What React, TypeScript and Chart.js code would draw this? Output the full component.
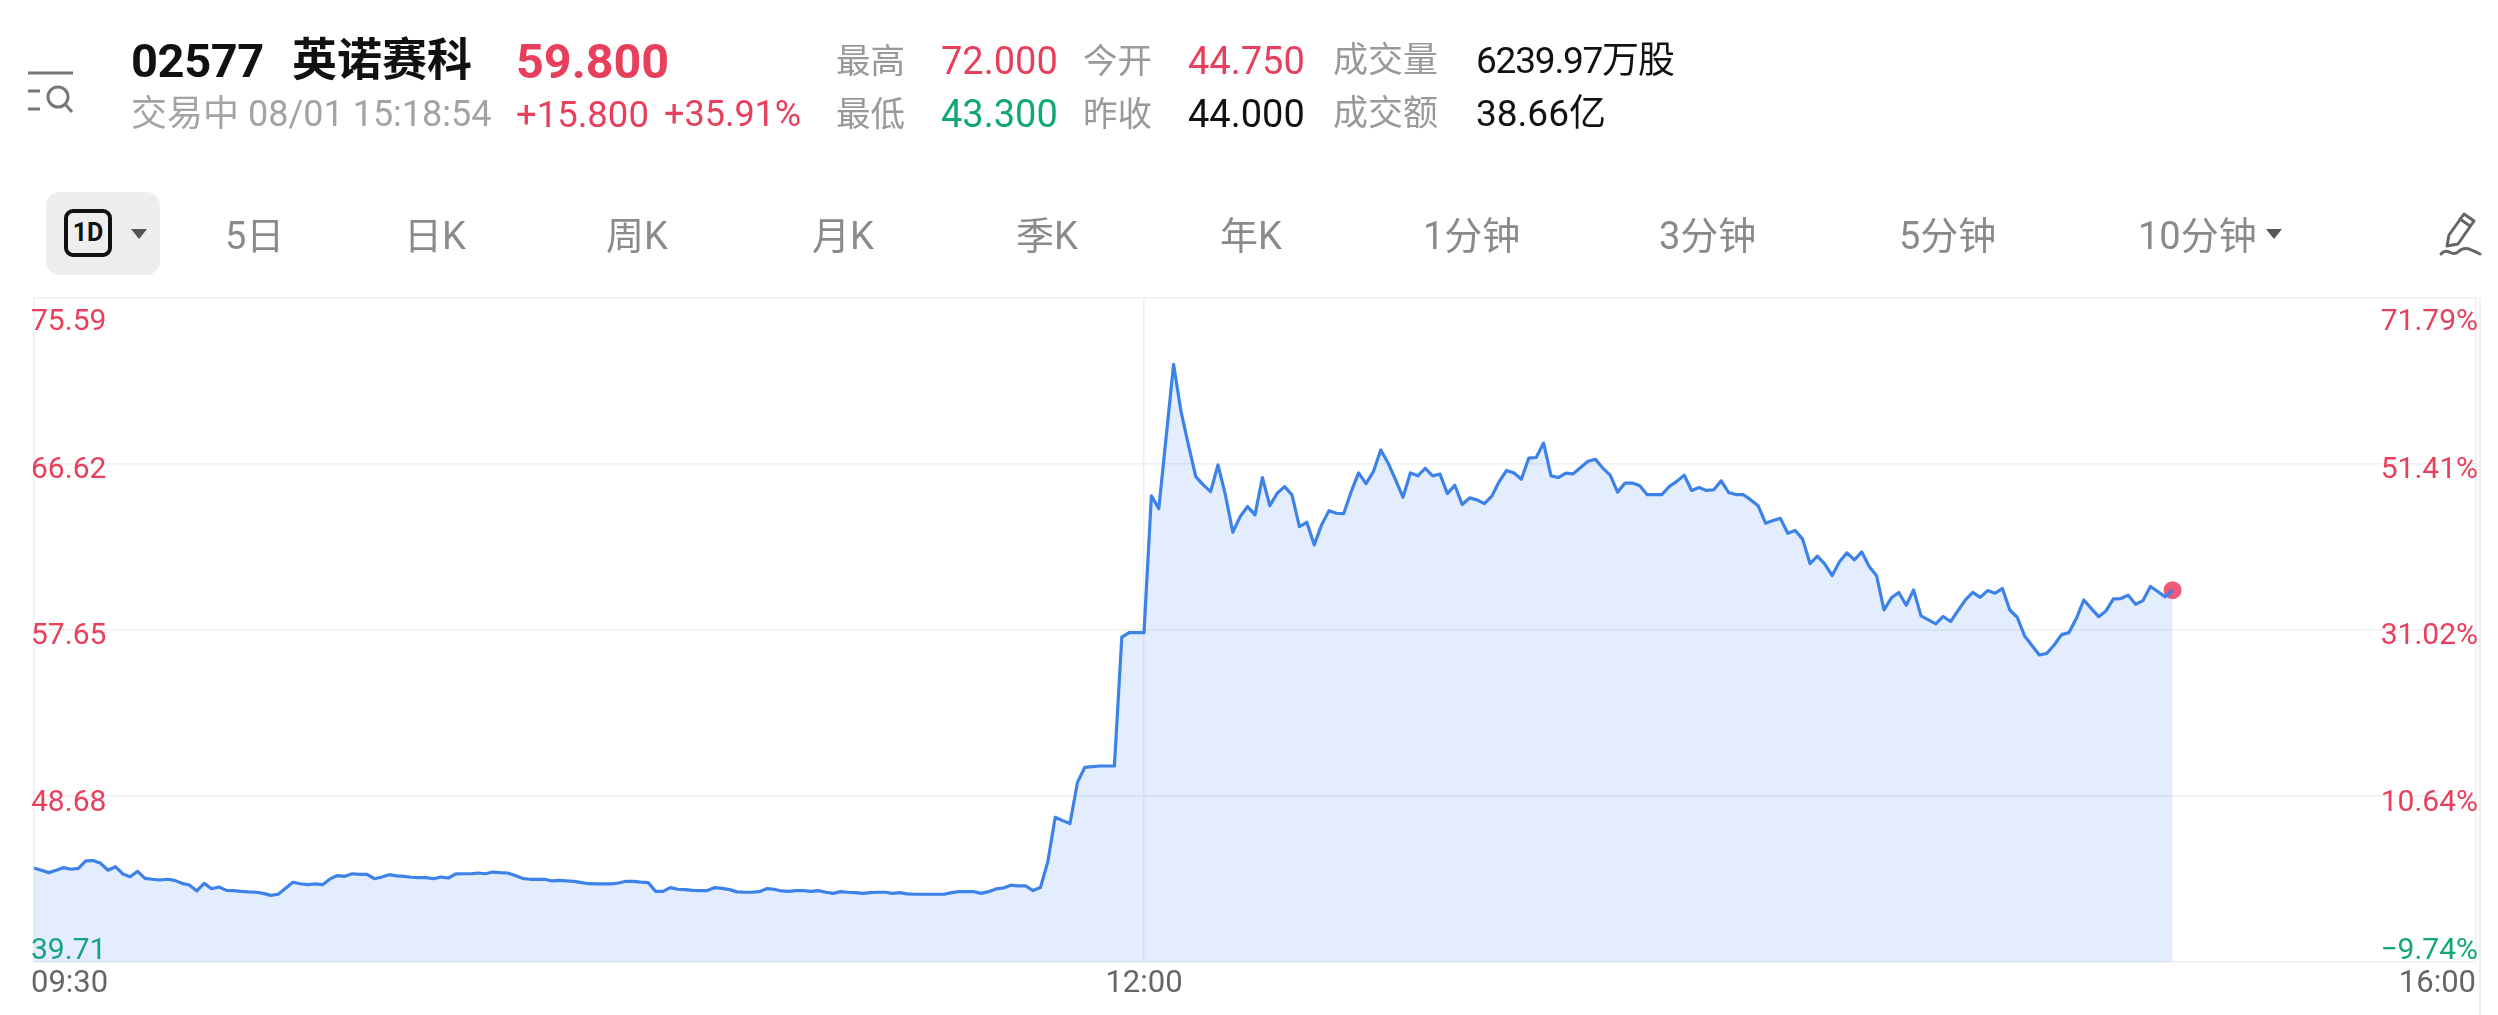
import React, { useEffect, useRef } from "react";
import { Chart, registerables } from "chart.js";

Chart.register(...registerables);

// Prices by minute from 09:30 (morning: first 151 minutes)
const morningA = [44.79,44.67,44.54,44.67,44.81,44.72,44.77,45.17,45.19,45.04,44.67,44.86,44.47,44.32,44.61,44.23,44.18,44.14,44.18,44.12,43.96,43.87,43.55,43.96,43.67,43.76,43.58,43.57,43.53,43.50,43.48,43.42,43.31,43.37,43.69,44.02,43.94,43.89,43.93,43.89,44.20,44.38,44.34,44.48,44.45,44.45,44.21,44.30,44.43,44.36,44.34,44.29,44.27,44.27];
const morningB = [44.21,44.30,44.25,44.47,44.48,44.48,44.52,44.48,44.57,44.54,44.52,44.38,44.23,44.18,44.18,44.18,44.09,44.12,44.09,44.07,44.00,43.94,43.93,43.93,43.93,43.98,44.07,44.07,44.03,44.00,43.53,43.53,43.73,43.64,43.62,43.58,43.57,43.57,43.73,43.69,43.62,43.50,43.48,43.48,43.51,43.67,43.64,43.55,43.53,43.57,43.57,43.53,43.57,43.48];
const morningC = [43.42,43.51,43.48,43.46,43.42,43.46,43.48,43.48,43.42,43.46,43.39,43.37,43.37,43.37,43.37,43.37,43.46,43.51,43.51,43.51,43.42,43.51,43.66,43.71,43.86,43.82,43.82,43.57,43.73,45.13,47.53,47.35,47.19,49.40,50.23,50.27,50.30,50.30,50.30,57.26,57.51,57.51,57.51];
const afternoonA = [64.90,64.21,68.10,72.00,69.46,67.65,65.94,65.49,65.13,66.57,64.95,62.93,63.78,64.32,63.87,65.89,64.37,65.04,65.40,64.95,63.24,63.47,62.25,63.33,64.10,63.96,63.94,65.13,66.14,65.56,66.21,67.38,66.66,65.76,64.82,66.14,65.98,66.39,65.98,66.07,65.02,65.47,64.43,64.79,64.68,64.48,64.88,65.67];
const afternoonB = [66.27,66.13,65.80,66.94,66.97,67.75,65.98,65.89,66.13,66.09,66.43,66.77,66.87,66.40,66.02,65.10,65.59,65.59,65.44,64.96,64.97,64.97,65.41,65.68,66.02,65.19,65.35,65.19,65.23,65.71,65.08,64.97,64.96,64.68,64.36,63.42,63.57,63.68,62.88,63.03,62.56,61.24,61.64,61.21,60.59,61.35,61.82,61.44,61.87,61.08,60.58,58.74,59.39,59.68,58.99,59.82,58.41,58.20,57.98,58.38,58.11,58.70,59.28,59.68,59.41,59.78,59.64,59.89];
const afternoonC = [58.73,58.34,57.33,56.81,56.30,56.39,56.84,57.40,57.51,58.28,59.27,58.82,58.37,58.68,59.33,59.35,59.53,59.04,59.24,60.00,59.73,59.44,59.80];

const prices = [...morningA, ...morningB, ...morningC, ...afternoonA, ...afternoonB, ...afternoonC];

const yTicks = [39.71, 48.68, 57.65, 66.62, 75.59];
const yTickLabels = ["39.71", "48.68", "57.65", "66.62", "75.59"];
const pctTickLabels = ["−9.74%", "10.64%", "31.02%", "51.41%", "71.79%"];
const xTicks = [0, 150, 330];
const xTickLabels = ["09:30", "12:00", "16:00"];

const RED = "#e8405c";
const GREEN = "#12a871";
const LINE = "#3c82e8";
const GRID = "#efefef";
const FONT = 'Roboto, "Noto Sans CJK SC", sans-serif';

const labelShift = [-11, 7, 6, 6, 24];

const shiftPlugin = {
  id: "shiftTickLabels",
  beforeDraw(chart: any) {
    for (const [id, dx] of [["y", -3], ["y2", 2]] as [string, number][]) {
      const scale = chart.scales[id];
      const items = scale.getLabelItems();
      items.forEach((it: any, i: number) => {
        if (it.__moved) return;
        it.__moved = true;
        it.options.translation[0] += dx;
        it.options.translation[1] += labelShift[i];
      });
    }
    const xItems = chart.scales.x.getLabelItems();
    xItems.forEach((it: any, i: number) => {
      if (it.__moved) return;
      it.__moved = true;
      if (i === 0) it.options.translation[0] -= 3;
      it.options.translation[1] += 2;
    });
  },
};

const T = (props: { x: number; y: number; s: number; c: string; b?: boolean; t: string; sp?: number }) => (
  <span
    style={{
      position: "absolute",
      left: props.x,
      top: props.y - props.s,
      height: props.s * 2,
      lineHeight: `${props.s * 2}px`,
      fontSize: props.s,
      color: props.c,
      fontWeight: props.b ? 700 : 400,
      letterSpacing: props.sp ?? 0,
      whiteSpace: "nowrap",
      fontFamily: FONT,
    }}
  >
    {props.t}
  </span>
);

const Tri = ({ x, y }: { x: number; y: number }) => (
  <svg style={{ position: "absolute", left: x - 8, top: y - 6 }} width="16" height="12">
    <path d="M0 1 L16 1 L8 11 Z" fill="#555" />
  </svg>
);

const tabs: [string, number][] = [
  ["5日", 225], ["日K", 404], ["周K", 606], ["月K", 812], ["季K", 1016], ["年K", 1220],
  ["1分钟", 1423], ["3分钟", 1659], ["5分钟", 1899], ["10分钟", 2138],
];

export default function App() {
  const ref = useRef<HTMLCanvasElement>(null);
  useEffect(() => {
    const axisFont = { family: FONT, size: 30 };
    const colorFor = (v: number) => (v < 44 ? GREEN : RED);
    const chart = new Chart(ref.current as HTMLCanvasElement, {
      type: "line",
      data: {
        datasets: [
          {
            label: "price",
            data: prices.map((y, x) => ({ x, y })),
            borderColor: LINE,
            borderWidth: 3.2,
            backgroundColor: "rgba(60,130,240,0.145)",
            fill: "start",
            pointRadius: 0,
            tension: 0,
            borderJoinStyle: "round",
            order: 1,
          },
          {
            label: "last",
            data: [{ x: prices.length - 1, y: prices[prices.length - 1] }],
            borderColor: "#ee5a78",
            backgroundColor: "#ee5a78",
            pointRadius: 9,
            pointBorderWidth: 0,
            showLine: false,
            fill: false,
            order: 2,
          },
        ],
      },
      options: {
        animation: false,
        responsive: false,
        events: [],
        layout: { padding: { left: 34, right: 22, top: 298, bottom: 0 } },
        plugins: { legend: { display: false }, tooltip: { enabled: false } },
        scales: {
          x: {
            type: "linear",
            min: 0,
            max: 330,
            afterBuildTicks: (s: any) => { s.ticks = xTicks.map((value) => ({ value })); },
            afterFit: (s: any) => { s.height = 53; },
            grid: { color: GRID, lineWidth: 1.5, drawTicks: false },
            border: { display: false },
            ticks: {
              font: { family: FONT, size: 31 },
              color: "#666666",
              align: "inner",
              padding: 2,
              maxRotation: 0,
              autoSkip: false,
              callback: (v: any) => xTickLabels[xTicks.indexOf(Number(v))],
            },
          },
          y: {
            type: "linear",
            position: "left",
            min: yTicks[0],
            max: yTicks[yTicks.length - 1],
            afterBuildTicks: (s: any) => { s.ticks = yTicks.map((value) => ({ value })); },
            afterFit: (s: any) => { s.width = 0; },
            grid: { color: GRID, lineWidth: 1.5, drawTicks: false },
            border: { display: false },
            ticks: {
              mirror: true,
              padding: 0,
              font: axisFont,
              color: (ctx: any) => colorFor(ctx.tick.value),
              callback: (v: any) => yTickLabels[yTicks.indexOf(Number(v))],
            },
          },
          y2: {
            type: "linear",
            position: "right",
            min: yTicks[0],
            max: yTicks[yTicks.length - 1],
            afterBuildTicks: (s: any) => { s.ticks = yTicks.map((value) => ({ value })); },
            afterFit: (s: any) => { s.width = 0; },
            grid: { display: false },
            border: { display: false },
            ticks: {
              mirror: true,
              padding: 0,
              font: axisFont,
              color: (ctx: any) => colorFor(ctx.tick.value),
              callback: (v: any) => pctTickLabels[yTicks.indexOf(Number(v))],
            },
          },
        },
      } as any,
      plugins: [shiftPlugin],
    });
    return () => chart.destroy();
  }, []);

  return (
    <div style={{ position: "fixed", left: 0, top: 0, width: 2498, height: 1015, background: "#fff", overflow: "hidden" }}>
      <canvas ref={ref} width={2498} height={1015} style={{ position: "absolute", left: 0, top: 0, width: 2498, height: 1015 }} />
      <div style={{ position: "absolute", left: 2479, top: 298, width: 1.5, height: 717, background: "#efefef" }} />

      <svg style={{ position: "absolute", left: 26, top: 68 }} width="52" height="48" fill="none" stroke="#777" strokeWidth="3">
        <path d="M2 5 H47" />
        <path d="M2 23 H14 M2 41 H14" />
        <circle cx="32" cy="29" r="10" />
        <path d="M39 36 L46 44" />
      </svg>

      <T x={131} y={61} s={47} c="#111" b t="02577" sp={-0.4} />
      <T x={292} y={61} s={45} c="#111" b t="英诺赛科" />
      <T x={516} y={61} s={48.5} c={RED} b t="59.800" />

      <T x={131} y={114} s={36} c="#a3a3a3" t="交易中 08/01 15:18:54" />
      <T x={516} y={114} s={36.5} c={RED} t="+15.800" />
      <T x={664} y={114} s={36} c={RED} t="+35.91%" />

      <T x={836} y={61} s={34.5} c="#999" t="最高" />
      <T x={941} y={61} s={38} c={RED} t="72.000" />
      <T x={1083} y={61} s={34.5} c="#999" t="今开" />
      <T x={1188} y={61} s={38} c={RED} t="44.750" />
      <T x={1333} y={61} s={35} c="#999" t="成交量" />
      <T x={1476} y={61} s={37} c="#111" t="6239.97万股" sp={-1.2} />

      <T x={836} y={114} s={34.5} c="#999" t="最低" />
      <T x={941} y={114} s={38} c={GREEN} t="43.300" />
      <T x={1083} y={114} s={34.5} c="#999" t="昨收" />
      <T x={1188} y={114} s={38} c="#111" t="44.000" />
      <T x={1333} y={114} s={35} c="#999" t="成交额" />
      <T x={1476} y={114} s={37} c="#111" t="38.66亿" />

      <div style={{ position: "absolute", left: 46, top: 192, width: 114, height: 83, background: "#eeeeee", borderRadius: 14 }} />
      <div style={{ position: "absolute", left: 64, top: 209, width: 48, height: 48, boxSizing: "border-box", border: "4px solid #111", borderRadius: 9, textAlign: "center", lineHeight: "40px", fontSize: 25, fontWeight: 700, color: "#111", fontFamily: FONT }}>1D</div>
      <Tri x={139} y={234} />

      {tabs.map(([t, x]) => (
        <T key={t} x={x} y={235.5} s={38} c="#8a8a8a" t={t} />
      ))}
      <Tri x={2274} y={234} />

      <svg style={{ position: "absolute", left: 2438, top: 210 }} width="46" height="48" fill="none" stroke="#666" strokeWidth="3" strokeLinejoin="round" strokeLinecap="round">
        <path d="M26 4 L36 11 L20 34 L9 36 L11 25 Z" />
        <path d="M22 9 L32 16" />
        <path d="M3 44 C10 36 14 48 20 42 C26 36 30 38 42 44" />
      </svg>
    </div>
  );
}
